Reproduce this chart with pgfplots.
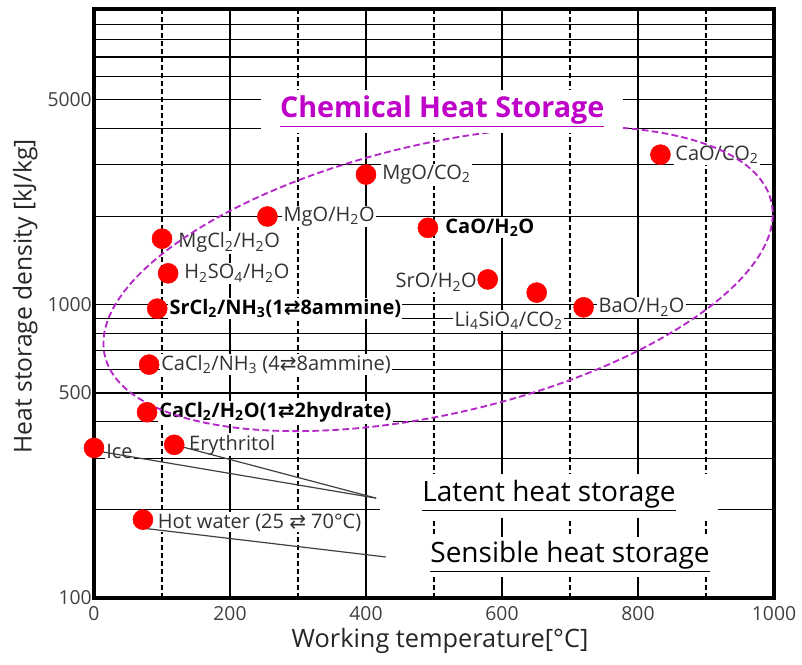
\documentclass[border=0pt]{standalone}
\usepackage{fontspec}
\setmainfont{Open Sans}
\newfontfamily\dejavu{DejaVu Sans}
\usepackage{pgfplots}
\pgfplotsset{compat=1.18}
\definecolor{titlemag}{RGB}{190,0,200}
\definecolor{ellmag}{RGB}{180,40,200}
\definecolor{lbl}{RGB}{50,50,50}
\newcommand{\arr}{{\dejavu\char"21C4}}
\newcommand{\sub}[1]{\textsubscript{#1}}
\tikzset{
  lb/.style={fill=white, inner sep=1pt, text=lbl, font=\fontsize{15}{17}\selectfont, anchor=west},
  lbb/.style={lb, text=black, font=\fontsize{15}{17}\selectfont\bfseries},
}
\begin{document}
\begin{tikzpicture}
\begin{axis}[
  scale only axis,
  width=510pt, height=441.75pt,
  xmin=0, xmax=1000,
  ymode=log, ymin=100, ymax=10200,
  clip=false,
  xtick={0,200,400,600,800,1000},
  xticklabels={0,200,400,600,800,1000},
  ytick={100,500,1000,5000},
  yticklabels={100,500,1000,5000},
  minor ytick={200,300,400,600,700,800,900,2000,3000,4000,6000,7000,8000,9000},
  xmajorgrids=true, ymajorgrids=true, yminorgrids=true,
  major grid style={black, line width=0.85pt},
  minor grid style={black, line width=0.85pt},
  extra x ticks={100,300,500,700,900},
  extra x tick labels={},
  extra x tick style={xmajorgrids=true, major grid style={black, line width=0.85pt, dash pattern=on 3.5pt off 2.5pt}},
  major tick length=0pt, minor tick length=0pt,
  tick style={draw=none},
  axis line style={line width=2.6pt},
  ticklabel style={font=\fontsize{14.5}{16}\selectfont, text=black!75},
  yticklabel style={inner sep=0pt, xshift=-1.5pt},
  xticklabel style={inner sep=0pt, yshift=-6pt},
  /pgf/number format/assume math mode=true,
  xlabel={Working temperature[°C]},
  every axis x label/.style={at={(rel axis cs:0.5,0)}, anchor=center, yshift=-32pt, xshift=4.5pt, font=\fontsize{19}{22}\selectfont, text=black!85},
]
\coordinate (bl) at (rel axis cs:0,0);
\coordinate (tr) at (rel axis cs:1,1);
\coordinate (yl) at (rel axis cs:0,0.512);
% data labels (white boxes)
\node[lb, xshift=10pt] at (axis cs:833,3250) {CaO/CO\sub{2}};
\node[lb, xshift=11pt] at (axis cs:400,2780) {MgO/CO\sub{2}};
\node[lb, xshift=11pt] at (axis cs:255,2000) {MgO/H\sub{2}O};
\node[lb, xshift=11pt, yshift=-3pt] at (axis cs:100,1680) {MgCl\sub{2}/H\sub{2}O};
\node[lb, xshift=11pt] at (axis cs:109,1280) {H\sub{2}SO\sub{4}/H\sub{2}O};
\node[lbb, xshift=8pt] at (axis cs:93,970) {SrCl\sub{2}/NH\sub{3}(1\arr8ammine)};
\node[lbb, xshift=12pt] at (axis cs:491,1830) {CaO/H\sub{2}O};
\node[lb, anchor=east, xshift=-7pt, yshift=-2pt] at (axis cs:579,1220) {SrO/H\sub{2}O};
\node[lb, anchor=center, xshift=-21pt, yshift=-21pt] at (axis cs:651,1100) {Li\sub{4}SiO\sub{4}/CO\sub{2}};
\node[lb, xshift=10pt] at (axis cs:720,980) {BaO/H\sub{2}O};
\node[lb, xshift=8pt] at (axis cs:81,625) {CaCl\sub{2}/NH\sub{3} (4\arr8ammine)};
\node[lbb, xshift=8pt] at (axis cs:78,430) {CaCl\sub{2}/H\sub{2}O(1\arr2hydrate)};
\node[lb, xshift=8pt, yshift=-3pt] at (axis cs:0,325) {Ice};
\node[lb, xshift=10pt] at (axis cs:118,333) {Erythritol};
\node[lb, xshift=10pt, yshift=-2pt] at (axis cs:72,185) {Hot water (25 \arr\ 70°C)};
% ellipse
\draw[ellmag, line width=1.4pt, dash pattern=on 5pt off 2.5pt] (axis cs:506,1227) ellipse [x radius=256.5pt, y radius=101.25pt, rotate=13];
% title and group labels
\node[fill=white, minimum width=271pt, minimum height=32pt, inner sep=0pt, text=titlemag, font=\fontsize{21.5}{24}\selectfont\bfseries] at (axis cs:512,4558) {\underline{Chemical Heat Storage}};
\node[fill=white, minimum width=253pt, minimum height=33pt, inner sep=0pt, font=\fontsize{21}{24}\selectfont] at (axis cs:669,223) {\underline{Latent heat storage}};
\node[fill=white, minimum width=255pt, minimum height=30pt, inner sep=0pt, font=\fontsize{21}{24}\selectfont] at (axis cs:700,138) {\underline{Sensible heat storage}};
% dots
\addplot[only marks, mark=*, mark size=7.5pt, mark options={draw=red, fill=red}] coordinates {
(833,3250) (400,2780) (255,2000) (100,1680) (109,1280) (93,970) (491,1830) (579,1220) (651,1100) (720,980) (81,625) (78,430) (0,325) (118,333) (72,185)
};
% leader lines
\draw[black!75, line width=0.9pt] (axis cs:-12,322) -- (axis cs:415,219);
\draw[black!75, line width=0.9pt] (axis cs:129,328) -- (axis cs:415,219);
\draw[black!75, line width=0.9pt] (axis cs:72,173) -- (axis cs:429,138);
\end{axis}
\node[rotate=90, anchor=center, font=\fontsize{18.5}{21}\selectfont, text=black!85] at ([xshift=-51.5pt]yl) {Heat storage density [kJ/kg]};
\pgfresetboundingbox
\path[use as bounding box] ([shift={(-70.5pt,-49.5pt)}]bl) rectangle ([shift={(21pt,6.75pt)}]tr);
\end{tikzpicture}
\end{document}
